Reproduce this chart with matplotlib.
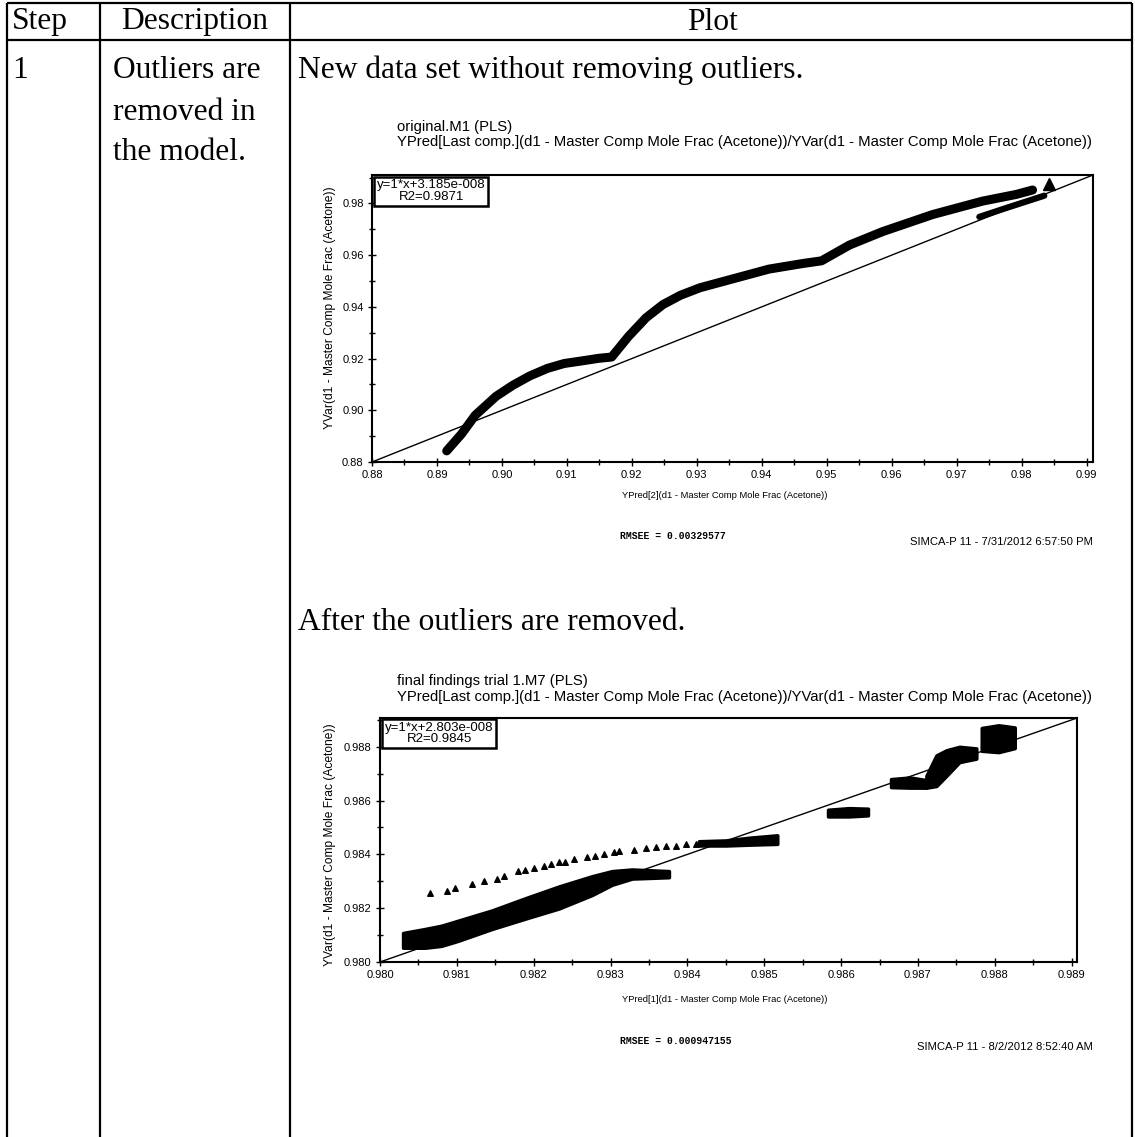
import matplotlib
matplotlib.use("Agg")
import matplotlib.pyplot as plt
from matplotlib import font_manager
from matplotlib.ticker import MultipleLocator, FormatStrFormatter

# ---------------- data ----------------
# Plot 1: original.M1 (PLS) -- dense band of observations (centre line)
top_x = [0.8915, 0.8938, 0.8959, 0.8991, 0.9017, 0.9043, 0.9070, 0.9096,
         0.9123, 0.9149, 0.9169, 0.9195, 0.9222, 0.9248, 0.9275, 0.9305,
         0.9358, 0.9411, 0.9464, 0.9492, 0.9535, 0.9586, 0.9663, 0.9740,
         0.9792, 0.9817]
top_y = [0.8843, 0.8909, 0.8981, 0.9054, 0.9097, 0.9133, 0.9162, 0.9181,
         0.9191, 0.9201, 0.9206, 0.9286, 0.9358, 0.9409, 0.9445, 0.9474,
         0.9510, 0.9546, 0.9568, 0.9578, 0.9639, 0.9691, 0.9757, 0.9809,
         0.9835, 0.9852]
top_x2 = [0.9735, 0.9782, 0.9835]
top_y2 = [0.9748, 0.9787, 0.9830]
top_blob_x = [0.9843]
top_blob_y = [0.9874]
top_lim = [0.880, 0.991]
top_xticks = [0.88, 0.89, 0.90, 0.91, 0.92, 0.93, 0.94, 0.95, 0.96, 0.97, 0.98, 0.99]
top_yticks = [0.88, 0.90, 0.92, 0.94, 0.96, 0.98]

# Plot 2: final findings trial 1.M7 (PLS)
band_x = [0.98030, 0.98059, 0.98080, 0.98102, 0.98146, 0.98189, 0.98233,
          0.98276, 0.98302, 0.98328, 0.98376]
band_hi = [0.98108, 0.98123, 0.98135, 0.98154, 0.98192, 0.98237, 0.98281,
           0.98319, 0.98338, 0.98344, 0.98338]
band_lo = [0.98053, 0.98053, 0.98060, 0.98079, 0.98123, 0.98161, 0.98199,
           0.98249, 0.98287, 0.98310, 0.98315]
tri_x = [0.98065, 0.98087, 0.98098, 0.98120, 0.98135, 0.98152, 0.98161,
         0.98180, 0.98189, 0.98200, 0.98213, 0.98222, 0.98233, 0.98241,
         0.98252, 0.98270, 0.98280, 0.98291, 0.98304, 0.98311, 0.98330,
         0.98346, 0.98359, 0.98372, 0.98385, 0.98398, 0.98411, 0.98424,
         0.98437, 0.98450]
tri_y = [0.98256, 0.98265, 0.98275, 0.98290, 0.98300, 0.98310, 0.98319,
         0.98338, 0.98341, 0.98348, 0.98357, 0.98363, 0.98370, 0.98373,
         0.98382, 0.98391, 0.98395, 0.98401, 0.98408, 0.98411, 0.98417,
         0.98424, 0.98429, 0.98433, 0.98433, 0.98437, 0.98439, 0.98442,
         0.98442, 0.98442]
seg1_x = [0.98415, 0.98450, 0.98480, 0.98517]
seg1_hi = [0.98449, 0.98452, 0.98462, 0.98471]
seg1_lo = [0.98433, 0.98433, 0.98436, 0.98439]
blob1_x = [0.98583, 0.98610, 0.98635]
blob1_hi = [0.98566, 0.98572, 0.98570]
blob1_lo = [0.98541, 0.98541, 0.98545]
blob2_x = [0.98665, 0.98690, 0.98711]
blob2_hi = [0.98680, 0.98686, 0.98676]
blob2_lo = [0.98650, 0.98648, 0.98648]
rise_x = [0.98711, 0.98724, 0.98737, 0.98754, 0.98776]
rise_hi = [0.98692, 0.98768, 0.98787, 0.98800, 0.98794]
rise_lo = [0.98648, 0.98654, 0.98692, 0.98743, 0.98756]
top2_x = [0.98783, 0.98805, 0.98826]
top2_hi = [0.98870, 0.98880, 0.98872]
top2_lo = [0.98785, 0.98780, 0.98795]
bot_lim = [0.980, 0.98907]
bot_xticks = [0.980, 0.981, 0.982, 0.983, 0.984, 0.985, 0.986, 0.987, 0.988, 0.989]
bot_yticks = [0.980, 0.982, 0.984, 0.986, 0.988]

# ---------------- figure ----------------
W, H = 1135, 1137
fig = plt.figure(figsize=(W / 100, H / 100), dpi=100)
avail = {f.name for f in font_manager.fontManager.ttflist}
NARROW = "Liberation Sans Narrow" if "Liberation Sans Narrow" in avail else "Liberation Sans"
SANS = "Liberation Sans"
SERIF = "Liberation Serif"
MONO = "Liberation Mono"
plt.rcParams["font.family"] = [NARROW, "DejaVu Sans"]
renderer = fig.canvas.get_renderer()

bg = fig.add_axes([0, 0, 1, 1])
bg.set_xlim(0, W)
bg.set_ylim(H, 0)
bg.axis("off")


def fit(t, width, vertical=False):
    bb = t.get_window_extent(renderer)
    cur = bb.height if vertical else bb.width
    t.set_fontsize(t.get_fontsize() * width / cur)
    return t


def ptxt(x, y, s, ha="left", va="center", **kw):
    return bg.text(x, y, s, ha=ha, va=va, **kw)


# table
lw_t = 1.6
for x in [7, 100, 290, 1132]:
    bg.plot([x, x], [3, H], color="black", lw=lw_t, solid_capstyle="butt")
for y in [3, 40]:
    bg.plot([7, 1132], [y, y], color="black", lw=lw_t, solid_capstyle="butt")

t = ptxt(195, 22, "Description", ha="center", family=SERIF, fontsize=20)
fit(t, 147)
fs_serif = t.get_fontsize()
ptxt(12, 22, "Step", family=SERIF, fontsize=fs_serif)
ptxt(712, 22, "Plot", ha="center", family=SERIF, fontsize=fs_serif)
ptxt(12, 70, "1", family=SERIF, fontsize=fs_serif)
for yy, s in zip([70, 112, 153], ["Outliers are", "removed in", "the model."]):
    ptxt(113, yy, s, family=SERIF, fontsize=fs_serif)
ptxt(298, 70, "New data set without removing outliers.", family=SERIF, fontsize=fs_serif)
ptxt(298, 623, "After the outliers are removed.", family=SERIF, fontsize=fs_serif)

title2 = "YPred[Last comp.](d1 - Master Comp Mole Frac (Acetone))/YVar(d1 - Master Comp Mole Frac (Acetone))"
tt = ptxt(397, 142, title2, fontsize=9)
fit(tt, 694)
fs_title = tt.get_fontsize()
ptxt(397, 127, "original.M1 (PLS)", fontsize=fs_title)
ptxt(397, 681, "final findings trial 1.M7 (PLS)", fontsize=fs_title)
ptxt(397, 697, title2, fontsize=fs_title)

tm = ptxt(620, 536, "RMSEE = 0.00329577", family=MONO, fontsize=8, weight="bold")
fit(tm, 105)
fs_mono = tm.get_fontsize()
ptxt(620, 1041, "RMSEE = 0.000947155", family=MONO, fontsize=fs_mono, weight="bold")

ts = ptxt(1093, 542, "SIMCA-P 11 - 7/31/2012 6:57:50 PM", ha="right", fontsize=8)
fit(ts, 183)
fs_simca = ts.get_fontsize()
ptxt(1093, 1047, "SIMCA-P 11 - 8/2/2012 8:52:40 AM", ha="right", fontsize=fs_simca)

tx = ptxt(725, 496, "YPred[2](d1 - Master Comp Mole Frac (Acetone))", ha="center", fontsize=9)
fit(tx, 205)
fs_xl = tx.get_fontsize()
ptxt(725, 1000, "YPred[1](d1 - Master Comp Mole Frac (Acetone))", ha="center", fontsize=fs_xl)

ty = ptxt(330, 308, "YVar(d1 - Master Comp Mole Frac (Acetone))", ha="center",
          rotation=90, family=SANS, fontsize=8)
fit(ty, 243, vertical=True)
fs_yl = ty.get_fontsize()
ptxt(330, 845, "YVar(d1 - Master Comp Mole Frac (Acetone))", ha="center",
     rotation=90, family=SANS, fontsize=fs_yl)

# tick and legend-box font sizes
fs_tick = 8
tb = bg.text(0, 0, "y=1*x+3.185e-008", fontsize=10)
fit(tb, 108)
fs_box = tb.get_fontsize()
tb.remove()


def make_axes(l, r, t_, b):
    return fig.add_axes([l / W, 1 - b / H, (r - l) / W, (b - t_) / H])


def style(ax, lim, xt, yt, xminor, yminor, fmtx, fmty):
    ax.set_xlim(lim)
    ax.set_ylim(lim)
    ax.set_xticks(xt)
    ax.set_yticks(yt)
    ax.xaxis.set_minor_locator(MultipleLocator(xminor))
    ax.yaxis.set_minor_locator(MultipleLocator(yminor))
    ax.xaxis.set_major_formatter(FormatStrFormatter(fmtx))
    ax.yaxis.set_major_formatter(FormatStrFormatter(fmty))
    ax.tick_params(which="both", direction="inout", width=1.0, labelsize=fs_tick)
    ax.tick_params(which="major", length=6, pad=3)
    ax.tick_params(which="minor", length=4)
    for sp in ax.spines.values():
        sp.set_linewidth(1.5)
    ax.plot(lim, lim, color="black", lw=1.0, zorder=2)


box_kw = dict(boxstyle="square,pad=0.2", fc="white", ec="black", lw=1.8)

# ---- plot 1 ----
ax1 = make_axes(372, 1093, 175, 462)
style(ax1, top_lim, top_xticks, top_yticks, 0.005, 0.01, "%.2f", "%.2f")
ax1.plot(top_x, top_y, color="black", lw=6.5, solid_capstyle="round", zorder=3)
ax1.plot(top_x2, top_y2, color="black", lw=4.5, solid_capstyle="round", zorder=3)
ax1.plot(top_blob_x, top_blob_y, marker="^", color="black", ms=9, ls="none", zorder=3)
ax1.text(0.007, 0.985, "y=1*x+3.185e-008\nR2=0.9871", transform=ax1.transAxes,
         ha="left", va="top", fontsize=fs_box, linespacing=0.95,
         multialignment="center", bbox=box_kw, zorder=5)

# ---- plot 2 ----
ax2 = make_axes(380, 1077, 718, 962)
style(ax2, bot_lim, bot_xticks, bot_yticks, 0.0005, 0.001, "%.3f", "%.3f")
for xs, lo, hi in [(band_x, band_lo, band_hi), (seg1_x, seg1_lo, seg1_hi),
                   (blob1_x, blob1_lo, blob1_hi), (blob2_x, blob2_lo, blob2_hi),
                   (rise_x, rise_lo, rise_hi), (top2_x, top2_lo, top2_hi)]:
    ax2.fill_between(xs, lo, hi, color="black", lw=2.5, ec="black", zorder=3)
ax2.scatter(tri_x, tri_y, marker="^", s=16, color="black", zorder=3)
ax2.text(0.007, 0.985, "y=1*x+2.803e-008\nR2=0.9845", transform=ax2.transAxes,
         ha="left", va="top", fontsize=fs_box, linespacing=0.95,
         multialignment="center", bbox=box_kw, zorder=5)

fig.savefig("out.png", dpi=100, facecolor="white")
